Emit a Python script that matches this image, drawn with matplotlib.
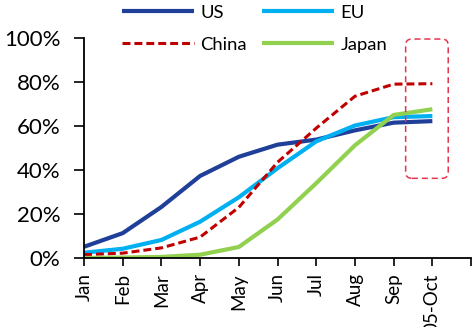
import matplotlib.pyplot as plt
from matplotlib.patches import FancyBboxPatch
from matplotlib.ticker import FuncFormatter

plt.rcParams['font.family'] = ['Lato', 'DejaVu Sans']

# Cuota acumulada por mes (%)
meses = ["Jan", "Feb", "Mar", "Apr", "May", "Jun", "Jul", "Aug", "Sep", "05-Oct"]
us = [5.1, 11.3, 23.2, 37.3, 46.0, 51.5, 53.8, 58.0, 61.5, 62.2]
eu = [2.4, 4.2, 8.2, 16.5, 27.6, 40.8, 53.0, 60.2, 64.0, 64.5]
china = [1.5, 2.2, 4.6, 9.5, 23.0, 43.5, 59.0, 73.5, 79.0, 79.2]
japan = [0.0, 0.2, 0.5, 1.5, 5.0, 17.5, 34.0, 51.2, 65.0, 67.6]

fig = plt.figure(figsize=(4.72, 3.27), dpi=100)
ax = fig.add_axes([0.178, 0.211, 0.82, 0.673])

x = list(range(len(meses)))
l_us, = ax.plot(x, us, color='#1F3F99', lw=3, solid_capstyle='butt', label='US')
l_eu, = ax.plot(x, eu, color='#00B0F0', lw=3, solid_capstyle='butt', label='EU')
l_cn, = ax.plot(x, china, color='#C00000', lw=2.2, dashes=(2.6, 1.3), label='China')
l_jp, = ax.plot(x, japan, color='#92D050', lw=3, solid_capstyle='butt', label='Japan')

# Recuadro discontinuo sobre los dos últimos meses
caja = FancyBboxPatch((8.31, 36.2), 1.1, 63.3,
                      boxstyle="round,pad=0,rounding_size=0.16",
                      mutation_aspect=17.6, fill=False,
                      edgecolor='#E6344F', lw=1.1, ls=(0, (4, 2.5)),
                      clip_on=False, zorder=5)
ax.add_patch(caja)

ax.set_xlim(0, 10)
ax.set_ylim(0, 100)
ax.set_xticks(range(11))
ax.set_xticklabels(meses + [""], rotation=90, fontsize=13.5)
ax.set_yticks(range(0, 101, 20))
ax.yaxis.set_major_formatter(FuncFormatter(lambda v, p: "%d%%" % v))
ax.tick_params(axis='y', labelsize=16, length=7, width=1.2, direction='out', pad=10)
ax.tick_params(axis='x', length=6, width=1.2, direction='out', pad=5)

for lado in ['top', 'right']:
    ax.spines[lado].set_visible(False)
for lado in ['left', 'bottom']:
    ax.spines[lado].set_linewidth(1.3)

fig.legend([l_us, l_cn, l_eu, l_jp], ['US', 'China', 'EU', 'Japan'],
           ncol=2, loc='upper left', bbox_to_anchor=(0.2585, 0.985),
           frameon=False, fontsize=13.3, handlelength=3.9, handletextpad=0.35,
           columnspacing=0.8, labelspacing=0.85, borderpad=0, borderaxespad=0)

fig.savefig('out.png', dpi=100)
